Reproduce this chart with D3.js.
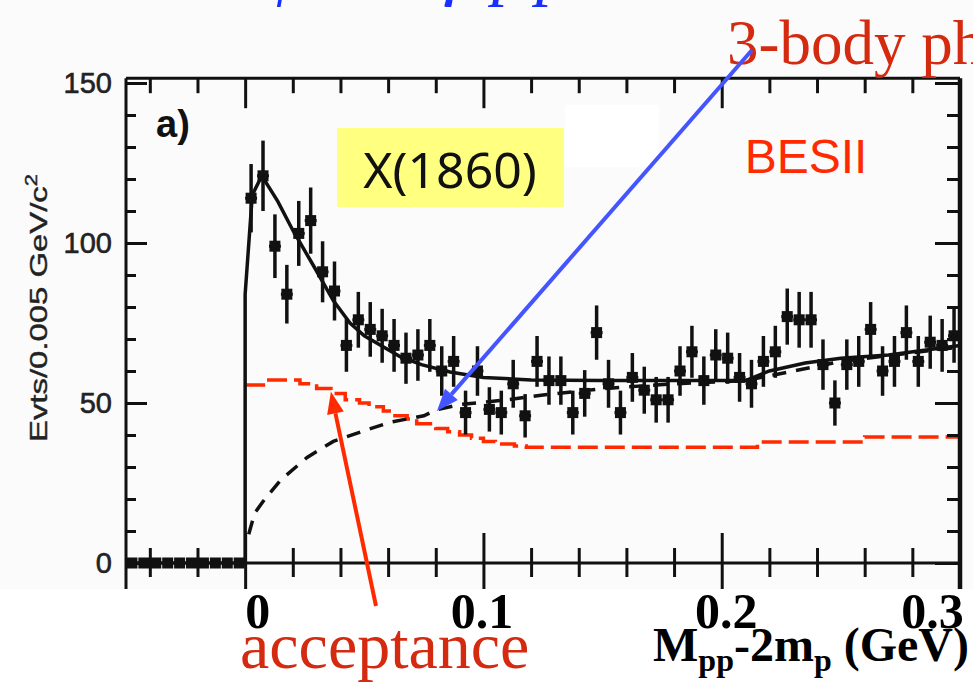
<!DOCTYPE html>
<html>
<head>
<meta charset="utf-8">
<script src="https://cdn.jsdelivr.net/npm/d3@7"></script>
<style>
  body { margin: 0; background: #fbfbfb; }
  svg { display: block; }
</style>
</head>
<body>
<div id="chart"></div>
<script>
// histogram of M(pp)-2m(p), 0.005 GeV bins starting at -0.05 GeV
var binLow = -0.05, binWidth = 0.005;
var counts = [0, 0, 0, 0, 0, 0, 0, 0, 0, 0,
  114, 121, 99, 84, 103, 107, 91, 85, 68, 76,
  73, 71, 68, 64, 65, 68, 60, 63, 47, 60,
  48, 47, 56, 46, 63, 57, 57, 47, 53, 72,
  56, 47, 58, 54, 51, 51, 60, 66, 57, 65,
  64, 58, 56, 63, 66, 77, 76, 76, 62, 50,
  62, 63, 73, 60, 63, 72, 63, 69, 68, 71];

// fit (solid black)
var fitX = [0, 0, 0.003, 0.007, 0.0137, 0.02, 0.029, 0.037, 0.044, 0.05, 0.057, 0.065, 0.074, 0.086, 0.1, 0.12, 0.15, 0.21, 0.22, 0.235, 0.25, 0.27, 0.285, 0.3];
var fitY = [0, 84, 115, 121, 113, 104, 92.5, 82, 75, 71, 68, 64.5, 62, 59.7, 58, 57.2, 57, 57, 60, 62.5, 64, 65, 66.5, 68];

// 3-body phase space (black dashed)
var psX = [0.0015, 0.004, 0.008, 0.015, 0.026, 0.037, 0.051, 0.061, 0.075, 0.08, 0.09, 0.11, 0.125, 0.15, 0.18, 0.21, 0.25, 0.3];
var psY = [9, 15.6, 19.7, 26, 33, 38, 41.6, 44, 46, 47.8, 49.5, 51, 52.5, 54.5, 56, 57, 63, 67.5];

// acceptance (red dashed, stepped)
var accX = [0, 0.009, 0.023, 0.03, 0.036, 0.042, 0.048, 0.052, 0.058, 0.062, 0.068, 0.072, 0.08, 0.085, 0.09, 0.095, 0.1, 0.105, 0.113, 0.118, 0.215, 0.26, 0.3];
var accY = [55.6, 57.2, 56, 54.5, 53, 51, 50, 48.8, 47.5, 46, 45, 43.5, 42, 41, 40, 39, 38, 37.2, 36.6, 36.2, 37.8, 39.4, 39.4];

var xTickLabels = ["0", "0.1", "0.2", "0.3"];
var yTickLabels = ["0", "50", "100", "150"];

var W = 973, H = 689;
var svg = d3.select("#chart").append("svg").attr("width", W).attr("height", H);

var x = d3.scaleLinear().domain([-0.05, 0.3]).range([126, 960]);
var y = d3.scaleLinear().domain([0, 150]).range([563, 83]);
var yTop = 151.5;

// white patch inside the plot
svg.append("rect").attr("x", 565).attr("y", 105).attr("width", 94).attr("height", 62).attr("fill", "#ffffff");

// X(1860) box
svg.append("rect").attr("x", 337).attr("y", 128).attr("width", 227).attr("height", 79).attr("fill", "#ffff80");
svg.append("text").attr("x", 450).attr("y", 188).attr("text-anchor", "middle")
  .attr("font-family", "Noto Sans").attr("font-size", 50).attr("fill", "#111").text("X(1860)");

svg.append("text").attr("x", 806).attr("y", 173).attr("text-anchor", "middle")
  .attr("font-family", "Liberation Sans").attr("font-size", 48).attr("fill", "#ff2a00").text("BESII");

svg.append("text").attr("x", 156).attr("y", 137)
  .attr("font-family", "Liberation Sans").attr("font-weight", "bold").attr("font-size", 38).attr("fill", "#111").text("a)");

// curves
var line = d3.line().x(function (d) { return x(d[0]); }).y(function (d) { return y(d[1]); });

svg.append("path").datum(d3.zip(accX, accY))
  .attr("d", line.curve(d3.curveStepAfter))
  .attr("fill", "none").attr("stroke", "#ff2a00").attr("stroke-width", 3.5).attr("stroke-dasharray", "20,7");

svg.append("path").datum(d3.zip(psX, psY))
  .attr("d", line.curve(d3.curveLinear))
  .attr("fill", "none").attr("stroke", "#111").attr("stroke-width", 3.5).attr("stroke-dasharray", "14,10");

svg.append("path").datum(d3.zip(fitX, fitY))
  .attr("d", line.curve(d3.curveLinear))
  .attr("fill", "none").attr("stroke", "#111").attr("stroke-width", 3.5);

// data points
var bins = counts.map(function (c, i) {
  return { x: binLow + binWidth * (i + 0.5), n: c, e: Math.sqrt(c) };
});
var pts = svg.append("g").attr("stroke", "#111").attr("fill", "#111");
pts.selectAll(".eb").data(bins).enter().append("line").attr("class", "eb")
  .attr("x1", function (d) { return x(d.x); }).attr("x2", function (d) { return x(d.x); })
  .attr("y1", function (d) { return y(d.n - d.e); }).attr("y2", function (d) { return y(d.n + d.e); })
  .attr("stroke-width", 3.5);
pts.selectAll(".hb").data(bins).enter().append("line").attr("class", "hb")
  .attr("x1", function (d) { return x(d.x - binWidth / 2); }).attr("x2", function (d) { return x(d.x + binWidth / 2); })
  .attr("y1", function (d) { return y(d.n); }).attr("y2", function (d) { return y(d.n); })
  .attr("stroke-width", 3);
pts.selectAll(".mk").data(bins).enter().append("rect").attr("class", "mk")
  .attr("x", function (d) { return x(d.x) - 5.5; }).attr("y", function (d) { return y(d.n) - 5.5; })
  .attr("width", 11).attr("height", 11).attr("stroke", "none");

// axes and frame
function styleAxis(g) {
  g.select(".domain").remove();
  g.selectAll(".tick text").remove();
  g.selectAll(".tick line").attr("stroke", "#111").attr("stroke-width", 3);
}
var xMinor = [-0.04, -0.02, 0.02, 0.04, 0.06, 0.08, 0.12, 0.14, 0.16, 0.18, 0.22, 0.24, 0.26, 0.28];
var xMajor = [0, 0.1, 0.2];
var yMinor = [10, 20, 30, 40, 60, 70, 80, 90, 110, 120, 130, 140];
var yMajor = [0, 50, 100, 150];

svg.append("g").attr("transform", "translate(0," + y(yTop) + ")")
  .call(d3.axisBottom(x).tickValues(xMinor).tickSize(15)).call(styleAxis);
svg.append("g").attr("transform", "translate(0," + y(yTop) + ")")
  .call(d3.axisBottom(x).tickValues(xMajor).tickSize(30)).call(styleAxis);

svg.append("g").attr("transform", "translate(0," + y(0) + ")")
  .call(d3.axisBottom(x).tickValues(xMinor).tickSize(14)).call(styleAxis);
svg.append("g").attr("transform", "translate(0," + y(0) + ")")
  .call(d3.axisTop(x).tickValues(xMinor).tickSize(15)).call(styleAxis);
svg.append("g").attr("transform", "translate(0," + y(0) + ")")
  .call(d3.axisBottom(x).tickValues(xMajor).tickSize(26)).call(styleAxis);
svg.append("g").attr("transform", "translate(0," + y(0) + ")")
  .call(d3.axisTop(x).tickValues(xMajor).tickSize(30)).call(styleAxis);

svg.append("g").attr("transform", "translate(" + x(-0.05) + ",0)")
  .call(d3.axisRight(y).tickValues(yMinor).tickSize(10)).call(styleAxis);
svg.append("g").attr("transform", "translate(" + x(-0.05) + ",0)")
  .call(d3.axisRight(y).tickValues(yMajor).tickSize(21)).call(styleAxis);
svg.append("g").attr("transform", "translate(" + x(0.3) + ",0)")
  .call(d3.axisLeft(y).tickValues(yMinor).tickSize(13)).call(styleAxis);
svg.append("g").attr("transform", "translate(" + x(0.3) + ",0)")
  .call(d3.axisLeft(y).tickValues(yMajor).tickSize(25)).call(styleAxis);

var frame = svg.append("g").attr("stroke", "#111").attr("fill", "none");
frame.append("line").attr("x1", x(-0.05)).attr("x2", x(-0.05)).attr("y1", y(yTop)).attr("y2", 590).attr("stroke-width", 3);
frame.append("line").attr("x1", x(0.3)).attr("x2", x(0.3)).attr("y1", y(yTop)).attr("y2", 590).attr("stroke-width", 4.5);
frame.append("line").attr("x1", x(-0.05)).attr("x2", x(0.3)).attr("y1", y(yTop)).attr("y2", y(yTop)).attr("stroke-width", 3);
frame.append("line").attr("x1", x(-0.05)).attr("x2", x(0.3)).attr("y1", y(0)).attr("y2", y(0)).attr("stroke-width", 3);

// y tick labels
var yl = svg.append("g").attr("transform", "translate(" + x(-0.05) + ",0)")
  .call(d3.axisLeft(y).tickValues(yMajor).tickSize(0).tickPadding(14)
    .tickFormat(function (d, i) { return yTickLabels[i]; }));
yl.select(".domain").remove();
yl.selectAll("text").attr("font-family", "Liberation Sans").attr("font-size", 29)
  .attr("fill", "#222").attr("stroke", "#222").attr("stroke-width", 0.6);

svg.append("text").attr("transform", "translate(47,308) rotate(-90)").attr("text-anchor", "middle")
  .attr("font-family", "Liberation Sans").attr("font-size", 24).attr("fill", "#222")
  .attr("stroke", "#222").attr("stroke-width", 0.4)
  .attr("textLength", 268).attr("lengthAdjust", "spacingAndGlyphs")
  .text("Evts/0.005 GeV/c").append("tspan").attr("dy", -10).attr("font-size", 16).text("2");

// lower white band (slide overlay)
svg.append("rect").attr("x", 0).attr("y", 589).attr("width", W).attr("height", H - 589).attr("fill", "#ffffff");

// x tick labels
var xl = svg.append("g").attr("transform", "translate(0," + y(0) + ")")
  .call(d3.axisBottom(x).tickValues([0, 0.1, 0.2, 0.3]).tickSize(0).tickPadding(29)
    .tickFormat(function (d, i) { return xTickLabels[i]; }));
xl.select(".domain").remove();
xl.selectAll("text").attr("font-family", "Liberation Serif").attr("font-weight", "bold")
  .attr("font-size", 50).attr("fill", "#000")
  .attr("dx", function (d, i) { return [12, -2, 4, -28][i]; });

svg.append("text").attr("x", 969).attr("y", 661).attr("text-anchor", "end")
  .attr("font-family", "Liberation Serif").attr("font-weight", "bold").attr("font-size", 48).attr("fill", "#000")
  .call(function (t) {
    t.append("tspan").text("M");
    t.append("tspan").attr("dy", 10).attr("font-size", 32).text("pp");
    t.append("tspan").attr("dy", -10).text("-2m");
    t.append("tspan").attr("dy", 10).attr("font-size", 32).text("p");
    t.append("tspan").attr("dy", -10).text(" (GeV)");
  });

svg.append("text").attr("x", 240).attr("y", 668)
  .attr("font-family", "Liberation Serif").attr("font-size", 66).attr("fill", "#d42a10").text("acceptance");

svg.append("text").attr("x", 727).attr("y", 64)
  .attr("font-family", "Liberation Serif").attr("font-size", 63).attr("fill", "#d42a10").text("3-body phase space");

// title (only its lower edge is in view)
var title = svg.append("text").attr("y", -8).attr("font-family", "Liberation Serif")
  .attr("font-style", "italic").attr("font-size", 70).attr("fill", "#1830ff");
title.append("tspan").attr("x", 212).text("J/ψ");
title.append("tspan").attr("x", 440).text("γ");
title.append("tspan").attr("x", 492).text("p");
title.append("tspan").attr("x", 536).text("p̄");

// arrows
function arrow(x1, y1, x2, y2, color, w, hl, hw) {
  var a = Math.atan2(y2 - y1, x2 - x1), c = Math.cos(a), s = Math.sin(a);
  var bx = x2 - hl * c, by = y2 - hl * s;
  svg.append("line").attr("x1", x1).attr("y1", y1).attr("x2", bx).attr("y2", by)
    .attr("stroke", color).attr("stroke-width", w);
  svg.append("path").attr("fill", color)
    .attr("d", "M" + x2 + "," + y2 + "L" + (bx - hw / 2 * s) + "," + (by + hw / 2 * c) +
      "L" + (bx + hw / 2 * s) + "," + (by - hw / 2 * c) + "Z");
}
arrow(752, 50, x(0.0805), y(47.5), "#4455ff", 4, 22, 17);
arrow(376, 606, x(0.036), y(53.5), "#ff2a00", 4, 22, 17);
</script>
</body>
</html>
